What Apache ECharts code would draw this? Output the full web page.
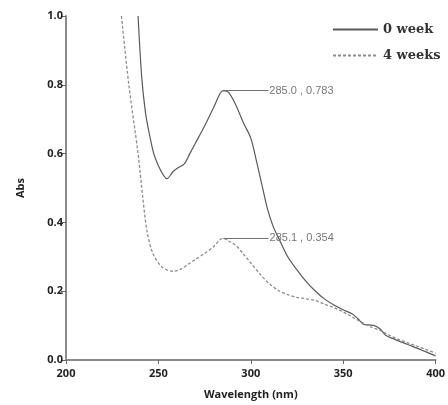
<!DOCTYPE html>
<html>
<head>
<meta charset="utf-8">
<script src="https://cdn.jsdelivr.net/npm/echarts@6/dist/echarts.min.js"></script>
<style>
  html, body { margin: 0; padding: 0; background: #fff; }
  #chart { width: 448px; height: 405px; }
</style>
</head>
<body>
<div id="chart"></div>
<script>
// 0 week spectrum
var week0 = [
  [239, 1.0], [241, 0.82], [243, 0.72], [245, 0.66], [247.5, 0.6], [250, 0.565],
  [253, 0.535], [254.6, 0.527], [258, 0.548], [261, 0.56], [264, 0.57], [267, 0.6],
  [270, 0.63], [275, 0.68], [280, 0.735], [285, 0.783], [288, 0.778],
  [292, 0.74], [296, 0.69], [300, 0.645], [303, 0.58], [306, 0.51],
  [309, 0.44], [312, 0.39], [315, 0.355], [320, 0.3], [325, 0.262],
  [330, 0.228], [335, 0.2], [340, 0.177], [345, 0.16], [350, 0.146],
  [355, 0.134], [358, 0.12], [361, 0.104], [364, 0.102], [367, 0.1],
  [370, 0.09], [373, 0.072], [378, 0.06], [385, 0.045], [392, 0.03], [400, 0.012]
];
// 4 weeks spectrum
var week4 = [
  [230, 1.0], [234, 0.8], [239, 0.6], [241.6, 0.47], [243.8, 0.376],
  [247, 0.31], [252, 0.27], [258, 0.258], [262, 0.264], [266, 0.278],
  [270, 0.292], [275, 0.31], [280, 0.33], [283, 0.348], [285.1, 0.354],
  [288, 0.346], [292, 0.333], [296, 0.308], [300, 0.282], [305, 0.25],
  [310, 0.222], [315, 0.202], [320, 0.19], [325, 0.182], [330, 0.178],
  [335, 0.173], [340, 0.162], [345, 0.152], [350, 0.14], [355, 0.125],
  [360, 0.11], [365, 0.096], [370, 0.086], [375, 0.072], [380, 0.06],
  [385, 0.05], [390, 0.04], [395, 0.03], [400, 0.02]
];
var seriesNames = ['0 week', '4 weeks'];
var peaks = [[285.0, 0.783], [285.1, 0.354]];

var axisGray = '#8a8a8a';
var chart = echarts.init(document.getElementById('chart'));

function peakLine(p) {
  return {
    silent: true,
    symbol: 'none',
    lineStyle: { color: '#707070', width: 1, type: 'solid' },
    label: {
      position: 'end',
      distance: 1,
      color: '#777',
      fontFamily: 'Liberation Sans',
      fontSize: 11,
      formatter: p[0].toFixed(1) + ' , ' + p[1].toFixed(3)
    },
    data: [[{ coord: [p[0], p[1]] }, { coord: [p[0] + 24.5, p[1]] }]]
  };
}

chart.setOption({
  animation: false,
  grid: { left: 66, right: 12, top: 16, bottom: 41 },
  legend: {
    orient: 'vertical',
    left: 327,
    top: 18,
    itemWidth: 45,
    itemHeight: 14,
    itemGap: 13,
    itemStyle: { opacity: 0 },
    data: seriesNames,
    textStyle: { fontFamily: 'DejaVu Serif', fontWeight: 'bold', fontSize: 13, color: '#333' }
  },
  xAxis: {
    type: 'value',
    min: 200, max: 400, interval: 50,
    name: 'Wavelength (nm)',
    nameLocation: 'middle',
    nameGap: 29,
    nameTextStyle: { fontFamily: 'Open Sans', fontWeight: 'bold', fontSize: 11, color: '#222' },
    axisLine: { lineStyle: { color: axisGray, width: 2 } },
    axisTick: { show: true, length: 4, lineStyle: { color: '#666', width: 1 } },
    axisLabel: { fontFamily: 'Open Sans', fontWeight: 'bold', fontSize: 11, color: '#222', margin: 8 },
    splitLine: { show: false }
  },
  yAxis: {
    type: 'value',
    min: 0, max: 1, interval: 0.2,
    name: 'Abs',
    nameLocation: 'middle',
    nameGap: 40,
    nameTextStyle: { fontFamily: 'Open Sans', fontWeight: 'bold', fontSize: 11, color: '#222' },
    axisLine: { show: true, lineStyle: { color: axisGray, width: 2 } },
    axisTick: { show: true, length: 5, lineStyle: { color: '#666', width: 1 } },
    axisLabel: { fontFamily: 'Open Sans', fontWeight: 'bold', fontSize: 11, color: '#222', margin: 3,
      formatter: function (v) { return v.toFixed(1); } },
    splitLine: { show: false }
  },
  series: [
    {
      name: seriesNames[0],
      type: 'line',
      data: week0,
      symbol: 'none',
      smooth: 0.3,
      lineStyle: { color: '#5a5a5a', width: 1.2 },
      itemStyle: { color: '#5a5a5a' },
      markLine: peakLine(peaks[0])
    },
    {
      name: seriesNames[1],
      type: 'line',
      data: week4,
      symbol: 'none',
      smooth: 0.3,
      lineStyle: { color: '#8c8c8c', width: 1.3, type: [3, 2] },
      itemStyle: { color: '#8c8c8c' },
      markLine: peakLine(peaks[1])
    }
  ]
});
</script>
</body>
</html>
